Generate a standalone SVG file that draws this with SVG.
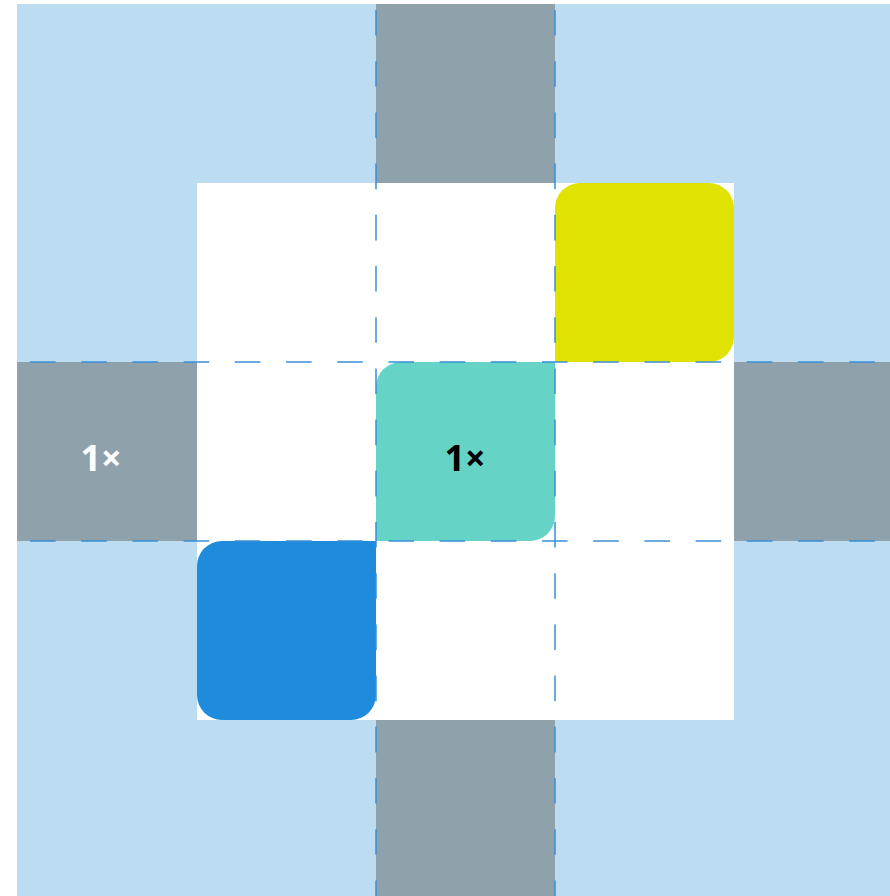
<svg xmlns="http://www.w3.org/2000/svg" width="890" height="896" viewBox="0 0 890 896">
  <style>
    .bg { fill: #bcdcf2; }
    .gray { fill: #8fa1ab; }
    .white { fill: #ffffff; }
    .guide { stroke: #3a8ed6; stroke-width: 1.5; stroke-dasharray: 25.6 25.6; fill: none; }
    .lbl { font-family: "Open Sans", "Liberation Sans", sans-serif; font-weight: 700; font-size: 36px; text-anchor: middle; }
  </style>
  <rect width="890" height="896" fill="#ffffff"/>
  <g id="background">
    <rect class="bg" x="17" y="4" width="873" height="892"/>
    <rect class="white" x="197" y="183" width="537" height="537"/>
  </g>
  <g id="top-gray"><rect class="gray" x="376" y="4" width="179" height="179"/></g>
  <g id="bottom-gray"><rect class="gray" x="376" y="720" width="179" height="176"/></g>
  <g id="left-gray">
    <rect class="gray" x="17" y="362" width="180" height="179"/>
    <text class="lbl" x="101" y="471" fill="#ffffff">1×</text>
  </g>
  <g id="right-gray"><rect class="gray" x="734" y="362" width="156" height="179"/></g>
  <g id="yellow">
    <path d="M555,362 V208 A25,25 0 0 1 580,183 H709 A25,25 0 0 1 734,208 V337 A25,25 0 0 1 709,362 Z" fill="#e0e200"/>
  </g>
  <g id="teal">
    <path d="M376,541 V387 A25,25 0 0 1 401,362 H555 V516 A25,25 0 0 1 530,541 Z" fill="#65d4c6"/>
    <text class="lbl" x="465" y="471" fill="#000000">1×</text>
  </g>
  <g id="blue">
    <path d="M197,566 A25,25 0 0 1 222,541 H376 V695 A25,25 0 0 1 351,720 H222 A25,25 0 0 1 197,695 Z" fill="#1e8bdc"/>
  </g>
  <g id="connectors">
    <line class="guide" x1="376" y1="4" x2="376" y2="896" stroke-dashoffset="45.2"/>
    <line class="guide" x1="555" y1="4" x2="555" y2="896" stroke-dashoffset="45.2"/>
    <line class="guide" x1="17" y1="362" x2="890" y2="362" stroke-dashoffset="38.2"/>
    <line class="guide" x1="17" y1="541" x2="890" y2="541" stroke-dashoffset="38.2"/>
  </g>
</svg>
